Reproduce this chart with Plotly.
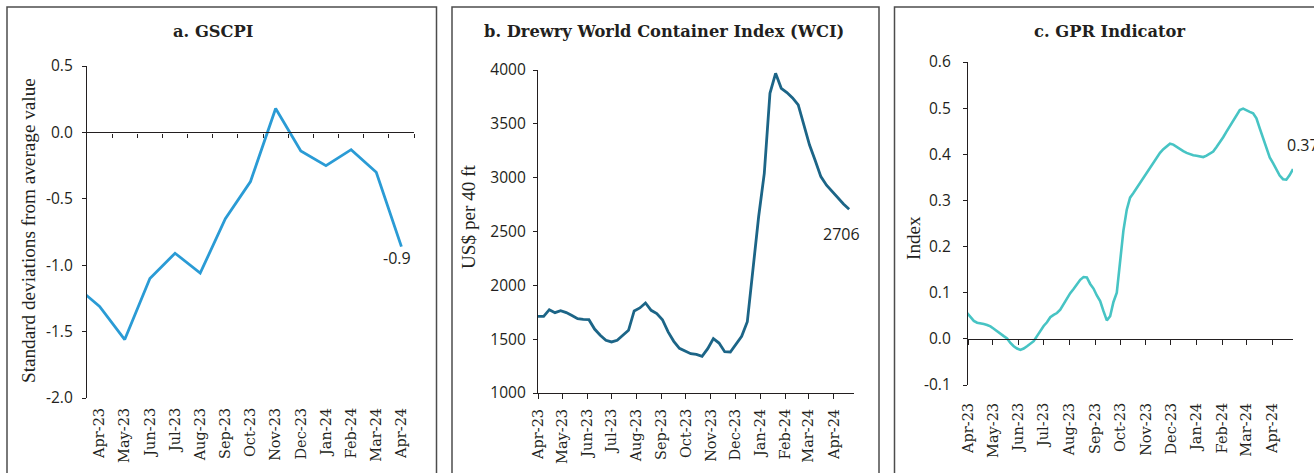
import pandas as pd
import plotly.graph_objects as go

W, H = 1314, 473

# ---------------- data ----------------
# a. GSCPI, monthly (standard deviations from average value)
gscpi_months = ["Mar-23", "Apr-23", "May-23", "Jun-23", "Jul-23", "Aug-23", "Sep-23",
                "Oct-23", "Nov-23", "Dec-23", "Jan-24", "Feb-24", "Mar-24", "Apr-24"]
gscpi_values = [-1.15, -1.31, -1.56, -1.10, -0.91, -1.06, -0.65,
                -0.37, 0.18, -0.14, -0.25, -0.13, -0.30, -0.86]

# b. Drewry WCI, weekly (US$ per 40 ft); no release in the Christmas week
wci_weeks = pd.date_range("2023-04-01", "2024-04-20", freq="7D")
wci_dates = [d for d in wci_weeks if d != pd.Timestamp("2023-12-23")]
wci_values = [1712, 1712, 1774, 1746, 1765, 1747, 1720, 1690, 1684, 1681,
              1594, 1536, 1489, 1474, 1489, 1532, 1582, 1762, 1790, 1836,
              1768, 1737, 1681, 1567, 1480, 1415, 1390, 1365, 1359, 1341,
              1412, 1505, 1464, 1384, 1381, 1458, 1526, 1662,
              2637, 3040, 3783, 3969, 3830, 3790, 3740, 3675, 3490, 3303,
              3160, 3010, 2930, 2870, 2810, 2755, 2706]

# c. GPR indicator, sampled every 4 days
gpr_dates = pd.date_range("2023-03-31", periods=99, freq="4D")
gpr_values = [0.056, 0.047, 0.039, 0.035, 0.034, 0.032, 0.030, 0.027, 0.022, 0.016,
              0.011, 0.006, 0.001, -0.009, -0.016, -0.021, -0.024, -0.021, -0.016, -0.011,
              -0.005, 0.006, 0.018, 0.028, 0.036, 0.047, 0.052, 0.056, 0.063, 0.075,
              0.089, 0.099, 0.108, 0.118, 0.128, 0.134, 0.133, 0.119, 0.109, 0.094,
              0.082, 0.060, 0.040, 0.049, 0.080, 0.100, 0.175, 0.235, 0.280, 0.306,
              0.316, 0.327, 0.338, 0.349, 0.361, 0.372, 0.383, 0.393, 0.403, 0.411,
              0.417, 0.423, 0.421, 0.416, 0.411, 0.407, 0.403, 0.400, 0.398, 0.397,
              0.395, 0.394, 0.397, 0.401, 0.406, 0.416, 0.426, 0.437, 0.449, 0.461,
              0.471, 0.484, 0.496, 0.499, 0.495, 0.492, 0.489, 0.478, 0.456, 0.435,
              0.414, 0.393, 0.381, 0.366, 0.354, 0.346, 0.345, 0.355, 0.368]

month_ticks = pd.date_range("2023-04-01", "2024-04-01", freq="MS")
month_labels = [d.strftime("%b-%y") for d in month_ticks]

# ---------------- styling ----------------
SERIF = "DejaVu Serif"
SERIF_T = "Liberation Serif"
SANS = "Open Sans"
TXT = "#231f20"
AX = "#231f20"
COL_A = "#2a9bd5"
COL_B = "#1c6587"
COL_C = "#47c4c4"


def fx(p):
    return p / W


def fy(p):
    return 1 - p / H


dom_a = ([fx(87), fx(414)], [fy(398), fy(66)])
dom_b = ([fx(538), fx(854)], [fy(393), fy(70)])
dom_c = ([fx(968), fx(1293)], [fy(385), fy(62)])

rng_a = [-2.0, 0.5]
rng_b = [1000, 4000]
rng_c = [-0.1, 0.6]
x_range_dates = ["2023-04-01", "2024-04-26"]


def zero_pos(dom, rng):
    lo, hi = rng
    return dom[1][0] + (0 - lo) / (hi - lo) * (dom[1][1] - dom[1][0])


fig = go.Figure()

# panel a
gscpi_x = list(range(len(gscpi_months)))
fig.add_trace(go.Scatter(x=gscpi_x, y=gscpi_values, mode="lines",
                         line=dict(color=COL_A, width=2.8), xaxis="x", yaxis="y",
                         hoverinfo="skip", showlegend=False))
fig.add_trace(go.Scatter(x=gscpi_x, y=gscpi_values, mode="lines", opacity=0,
                         line=dict(width=0), xaxis="x2", yaxis="y",
                         hoverinfo="skip", showlegend=False))
# panel b
fig.add_trace(go.Scatter(x=wci_dates, y=wci_values, mode="lines",
                         line=dict(color=COL_B, width=2.8), xaxis="x3", yaxis="y3",
                         hoverinfo="skip", showlegend=False))
# panel c
fig.add_trace(go.Scatter(x=gpr_dates, y=gpr_values, mode="lines",
                         line=dict(color=COL_C, width=2.6), xaxis="x4", yaxis="y4",
                         hoverinfo="skip", showlegend=False))
fig.add_trace(go.Scatter(x=gpr_dates, y=gpr_values, mode="lines", opacity=0,
                         line=dict(width=0), xaxis="x5", yaxis="y4",
                         hoverinfo="skip", showlegend=False))

tick_font_num = dict(family=SANS, size=15.5, color=TXT)
tick_font_date = dict(family=SERIF, size=14.5, color=TXT)

yt_a = [-2.0, -1.5, -1.0, -0.5, 0.0, 0.5]
yt_b = [1000, 1500, 2000, 2500, 3000, 3500, 4000]
yt_c = [-0.1, 0.0, 0.1, 0.2, 0.3, 0.4, 0.5, 0.6]

common_y = dict(showline=True, linecolor=AX, linewidth=1.2, ticks="outside", ticklen=4,
                tickcolor=AX, tickwidth=1.2, showgrid=False, zeroline=False,
                tickfont=tick_font_num, automargin=False)

fig.update_layout(
    width=W, height=H, margin=dict(l=0, r=0, t=0, b=0, autoexpand=False),
    paper_bgcolor="white", plot_bgcolor="white",
    # a
    xaxis=dict(domain=dom_a[0], anchor="y", range=[0.5, len(gscpi_months) - 0.5],
               tickmode="array", tickvals=gscpi_x[1:], ticktext=gscpi_months[1:],
               tickangle=-90, ticks="", showline=False, showgrid=False, zeroline=False,
               tickfont=tick_font_date, ticklabelstandoff=6, automargin=False),
    xaxis2=dict(overlaying="x", anchor="free", position=zero_pos(dom_a, rng_a),
                range=[0.5, len(gscpi_months) - 0.5], tickmode="array",
                tickvals=[i + 0.5 for i in gscpi_x[1:]], showticklabels=False,
                ticks="outside", ticklen=4, tickcolor=AX, tickwidth=1.2,
                showline=True, linecolor=AX, linewidth=1.2, showgrid=False, zeroline=False,
                automargin=False),
    yaxis=dict(domain=dom_a[1], anchor="x", range=rng_a, tickmode="array",
               tickvals=yt_a, ticktext=[f"{v:.1f}" for v in yt_a],
               ticklabelstandoff=6, **common_y),
    # b
    xaxis3=dict(domain=dom_b[0], anchor="y3", type="date", range=x_range_dates,
                tickmode="array", tickvals=month_ticks, ticktext=month_labels,
                tickangle=-90, ticks="outside", ticklen=5, tickcolor=AX, tickwidth=1.2,
                showline=True, linecolor=AX, linewidth=1.2, showgrid=False, zeroline=False,
                tickfont=tick_font_date, ticklabelstandoff=4, automargin=False),
    yaxis3=dict(domain=dom_b[1], anchor="x3", range=rng_b, tickmode="array",
                tickvals=yt_b, ticktext=[str(v) for v in yt_b],
                ticklabelstandoff=4, **common_y),
    # c
    xaxis4=dict(domain=dom_c[0], anchor="y4", type="date", range=x_range_dates,
                tickmode="array", tickvals=month_ticks, ticktext=month_labels,
                tickangle=-90, ticks="", showline=False, showgrid=False, zeroline=False,
                tickfont=tick_font_date, ticklabelstandoff=14, automargin=False),
    xaxis5=dict(overlaying="x4", anchor="free", position=zero_pos(dom_c, rng_c),
                type="date", range=x_range_dates, tickmode="array", tickvals=month_ticks,
                showticklabels=False, ticks="outside", ticklen=5, tickcolor=AX,
                tickwidth=1.2, showline=True, linecolor=AX, linewidth=1.2,
                showgrid=False, zeroline=False, automargin=False),
    yaxis4=dict(domain=dom_c[1], anchor="x4", range=rng_c, tickmode="array",
                tickvals=yt_c, ticktext=[f"{v:.1f}" for v in yt_c],
                ticklabelstandoff=9, **common_y),
)

# panel frames
for x0, x1 in [(7, 436.5), (452, 879), (894.5, 1340)]:
    fig.add_shape(type="rect", xref="paper", yref="paper",
                  x0=fx(x0), x1=fx(x1), y0=-0.1, y1=fy(7),
                  line=dict(color="#4d4d4d", width=1.5), fillcolor="rgba(0,0,0,0)",
                  layer="below")

title_font = dict(family=SERIF, size=16.3, color=TXT, weight="bold")
for text, xc in [("a. GSCPI", 213), ("b. Drewry World Container Index (WCI)", 664),
                 ("c. GPR Indicator", 1109)]:
    fig.add_annotation(text=text, xref="paper", yref="paper", x=fx(xc), y=fy(32),
                       xanchor="center", yanchor="middle", showarrow=False, font=title_font)

ytitle_font = dict(family=SERIF_T, size=19.2, color=TXT)
for text, xc, yc in [("Standard deviations from average value", 28, 231),
                     ("US$ per 40 ft", 468, 217),
                     ("Index", 913, 238)]:
    fig.add_annotation(text=text, xref="paper", yref="paper", x=fx(xc), y=fy(yc),
                       xanchor="center", yanchor="middle", textangle=-90,
                       showarrow=False, font=ytitle_font)

# end-point value labels
val_font = dict(family=SANS, size=16, color=TXT)
fig.add_annotation(x=gscpi_x[-1], y=gscpi_values[-1], xref="x", yref="y",
                   text=f"{gscpi_values[-1]:.1f}", showarrow=False, font=val_font,
                   xanchor="center", yanchor="middle", xshift=-4, yshift=-11)
fig.add_annotation(x=wci_dates[-1], y=wci_values[-1], xref="x3", yref="y3",
                   text=f"{wci_values[-1]:.0f}", showarrow=False, font=val_font,
                   xanchor="center", yanchor="middle", xshift=-8, yshift=-25)
fig.add_annotation(x=gpr_dates[-1], y=gpr_values[-1], xref="x4", yref="y4",
                   text=f"{gpr_values[-1]:.2f}", showarrow=False, font=val_font,
                   xanchor="left", yanchor="middle", xshift=-8, yshift=24)

fig.write_html("out.html")
